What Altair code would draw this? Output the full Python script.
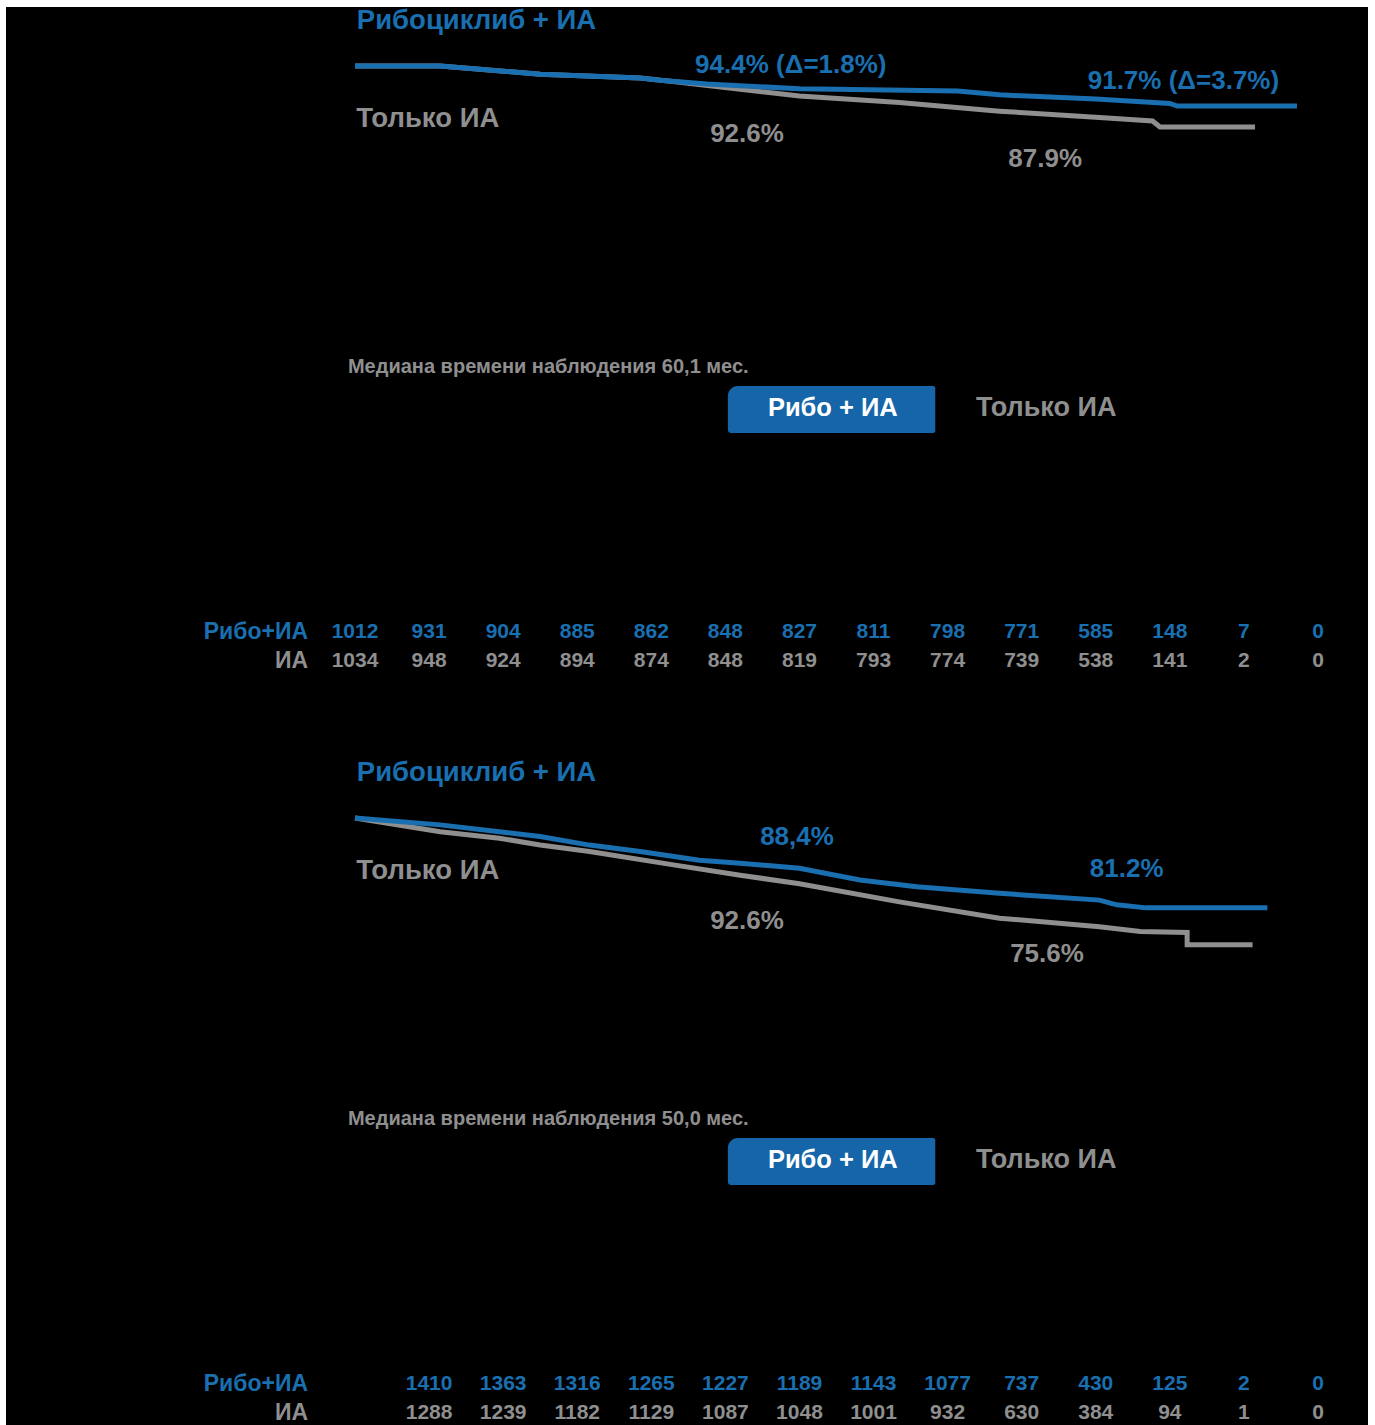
import altair as alt
import pandas as pd

# ---------------- data ----------------
TITLE_RIBO = "Рибоциклиб + ИА"
TITLE_AI = "Только ИА"
LEGEND_RIBO = "Рибо + ИА"
LEGEND_AI = "Только ИА"
RISK_LABEL_RIBO = "Рибо+ИА"
RISK_LABEL_AI = "ИА"

# Panel 1 curves (months, survival %)
TOP_RIBO_MONTHS = [0, 6.9, 15.0, 23.1, 24.7, 28.5, 36.0, 48.8, 52.2, 60.0, 66.0, 66.6, 76.3]
TOP_RIBO_PCT = [100, 100, 98.1, 97.2, 96.7, 95.8, 94.7, 94.2, 93.3, 92.3, 91.3, 90.7, 90.7]
TOP_AI_MONTHS = [0, 6.9, 15.0, 23.1, 26.3, 29.6, 36.0, 44.1, 52.2, 60.3, 64.6, 65.2, 72.9]
TOP_AI_PCT = [100, 100, 98.1, 97.2, 96.2, 95.1, 93.0, 91.5, 89.5, 88.0, 87.2, 85.8, 85.8]

# Panel 2 curves
BOT_RIBO_MONTHS = [0, 6.9, 11.7, 15.0, 19.0, 23.1, 27.9, 31.2, 36.0, 40.9, 45.5, 52.2, 60.3, 61.7, 64.1, 73.9]
BOT_RIBO_PCT = [100, 98.4, 96.8, 95.7, 93.7, 92.2, 90.2, 89.5, 88.3, 85.6, 84.0, 82.5, 80.9, 79.8, 79.1, 79.1]
BOT_AI_MONTHS = [0, 6.9, 11.7, 15.0, 19.0, 25.8, 31.2, 36.0, 44.1, 52.2, 60.3, 63.6, 67.4, 67.4, 72.7]
BOT_AI_PCT = [100, 96.8, 95.3, 93.7, 92.2, 89.1, 86.7, 84.7, 80.5, 76.7, 74.7, 73.6, 73.4, 70.5, 70.5]

# Numbers at risk
TOP_RISK_MONTHS = [0, 6, 12, 18, 24, 30, 36, 42, 48, 54, 60, 66, 72, 78]
TOP_RISK_RIBO = [1012, 931, 904, 885, 862, 848, 827, 811, 798, 771, 585, 148, 7, 0]
TOP_RISK_AI = [1034, 948, 924, 894, 874, 848, 819, 793, 774, 739, 538, 141, 2, 0]
BOT_RISK_MONTHS = [6, 12, 18, 24, 30, 36, 42, 48, 54, 60, 66, 72, 78]
BOT_RISK_RIBO = [1410, 1363, 1316, 1265, 1227, 1189, 1143, 1077, 737, 430, 125, 2, 0]
BOT_RISK_AI = [1288, 1239, 1182, 1129, 1087, 1048, 1001, 932, 630, 384, 94, 1, 0]

# Point-estimate labels
TOP_LABELS_RIBO = ["94.4% (Δ=1.8%)", "91.7% (Δ=3.7%)"]
TOP_LABELS_AI = ["92.6%", "87.9%"]
BOT_LABELS_RIBO = ["88,4%", "81.2%"]
BOT_LABELS_AI = ["92.6%", "75.6%"]
TOP_MEDIAN = "Медиана времени наблюдения 60,1 мес."
BOT_MEDIAN = "Медиана времени наблюдения 50,0 мес."

# ---------------- layout (anchors in month / % units) ----------------
LAYOUT = {
    "title_ribo": (0.15, 110.5),
    "title_ai": (0.1, 87.7),
    "top_ribo_lbl": [(35.3, 100.2), (67.1, 96.5)],
    "top_ai_lbl": [(31.75, 84.2), (55.9, 78.4)],
    "bot_ribo_lbl": [(35.8, 95.6), (62.5, 88.1)],
    "bot_ai_lbl": [(31.75, 76.0), (56.05, 68.4)],
    "median": (-0.57, 30.0),
    "box": (30.2, 47.0, 25.6, 14.65),
    "box_text": (38.7, 20.5),
    "legend_ai": (50.3, 20.5),
    "risk_label_x": -3.8,
    "risk_row_ribo": -31.6,
    "risk_row_ai": -38.4,
}

BLUE = "#1a6fb0"
GRAY = "#8f8f8f"
BOX = "#1565a8"
FONT = "Liberation Sans"

X_SCALE = alt.Scale(domain=[0, 78], range=[349, 1312], nice=False, zero=False)
Y_SCALE = alt.Scale(domain=[0, 100], range=[489, 59], nice=False, zero=False)


def X(field="m"):
    return alt.X(f"{field}:Q", scale=X_SCALE, axis=None)


def Y(field="p"):
    return alt.Y(f"{field}:Q", scale=Y_SCALE, axis=None)


def line(months, pct, color):
    df = pd.DataFrame({"m": months, "p": pct, "o": list(range(len(months)))})
    return alt.Chart(df).mark_line(color=color, strokeWidth=5, interpolate="linear",
                                   strokeCap="butt").encode(x=X(), y=Y(), order="o:Q")


def text(rows, color, size, align="center", weight="bold"):
    df = pd.DataFrame(rows, columns=["t", "m", "p"])
    return alt.Chart(df).mark_text(align=align, baseline="middle", color=color,
                                   fontSize=size, fontWeight=weight, font=FONT
                                   ).encode(x=X(), y=Y(), text="t:N")


def panel(ribo_m, ribo_p, ai_m, ai_p, ribo_lbls, ai_lbls, ribo_pos, ai_pos,
          median, risk_m, risk_ribo, risk_ai, height):
    L = LAYOUT
    bx = L["box"]
    box_df = pd.DataFrame([{"m1": bx[0], "m2": bx[1], "p1": bx[2], "p2": bx[3]}])
    box = alt.Chart(box_df).mark_rect(color=BOX, cornerRadiusTopLeft=10,
                                      cornerRadiusBottomLeft=3, cornerRadiusTopRight=2,
                                      cornerRadiusBottomRight=2).encode(
        x=X("m1"), x2="m2", y=Y("p1"), y2="p2")
    layers = [
        line(ai_m, ai_p, GRAY),
        line(ribo_m, ribo_p, BLUE),
        text([(TITLE_RIBO, *L["title_ribo"])], BLUE, 27.5, align="left"),
        text([(TITLE_AI, *L["title_ai"])], GRAY, 27.5, align="left"),
        text([(t, *pos) for t, pos in zip(ribo_lbls, ribo_pos)], BLUE, 26),
        text([(t, *pos) for t, pos in zip(ai_lbls, ai_pos)], GRAY, 26),
        text([(median, *L["median"])], GRAY, 20, align="left"),
        box,
        text([(LEGEND_RIBO, *L["box_text"])], "white", 25.5),
        text([(LEGEND_AI, *L["legend_ai"])], GRAY, 27, align="left"),
        text([(RISK_LABEL_RIBO, L["risk_label_x"], L["risk_row_ribo"])], BLUE, 23, align="right"),
        text([(RISK_LABEL_AI, L["risk_label_x"], L["risk_row_ai"])], GRAY, 23, align="right"),
        text([(str(v), m, L["risk_row_ribo"]) for v, m in zip(risk_ribo, risk_m)], BLUE, 21),
        text([(str(v), m, L["risk_row_ai"]) for v, m in zip(risk_ai, risk_m)], GRAY, 21),
    ]
    return alt.layer(*layers).properties(width=1362, height=height)


top = panel(TOP_RIBO_MONTHS, TOP_RIBO_PCT, TOP_AI_MONTHS, TOP_AI_PCT,
            TOP_LABELS_RIBO, TOP_LABELS_AI, LAYOUT["top_ribo_lbl"], LAYOUT["top_ai_lbl"],
            TOP_MEDIAN, TOP_RISK_MONTHS, TOP_RISK_RIBO, TOP_RISK_AI, 752)
bottom = panel(BOT_RIBO_MONTHS, BOT_RIBO_PCT, BOT_AI_MONTHS, BOT_AI_PCT,
               BOT_LABELS_RIBO, BOT_LABELS_AI, LAYOUT["bot_ribo_lbl"], LAYOUT["bot_ai_lbl"],
               BOT_MEDIAN, BOT_RISK_MONTHS, BOT_RISK_RIBO, BOT_RISK_AI, 667)

chart = alt.vconcat(top, bottom, spacing=0, bounds="flush").properties(
    padding={"left": 6, "top": 6, "right": 7, "bottom": 0},
    background="white",
).configure_view(fill="black", stroke=None)

chart.save("out.html", embed_options={"renderer": "svg", "actions": False})
